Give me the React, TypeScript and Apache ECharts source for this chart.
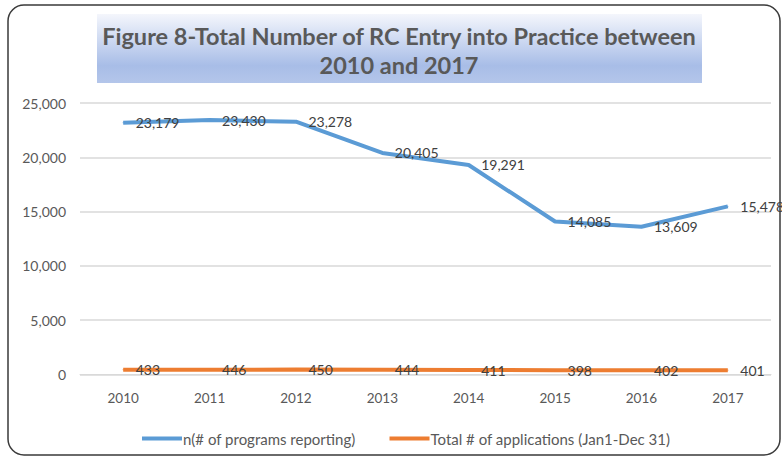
import React, { useEffect, useRef } from "react";
import * as echarts from "echarts";

const years = ["2010", "2011", "2012", "2013", "2014", "2015", "2016", "2017"];
const programsReporting = [23179, 23430, 23278, 20405, 19291, 14085, 13609, 15478];
const totalApplications = [433, 446, 450, 444, 411, 398, 402, 401];
const seriesNames = ["n(# of programs reporting)", "Total # of applications (Jan1-Dec 31)"];
const titleLines = ["Figure 8-Total Number of RC Entry into Practice between", "2010 and 2017"];

export default function App() {
  const ref = useRef<HTMLDivElement>(null);
  useEffect(() => {
    if (!ref.current) return;
    const chart = echarts.init(ref.current, null, { renderer: "svg" });
    const font = "Lato, 'Open Sans', sans-serif";
    const fmt = (v: number) => v.toLocaleString("en-US");
    const titleText = (text: string, y: number) => ({
      type: "text",
      x: 399,
      y,
      style: {
        text,
        fontFamily: font,
        fontWeight: "bold",
        fontSize: 23.5,
        fill: "#595959",
        align: "center",
        verticalAlign: "middle",
      },
      z: 2,
    });
    const lbl = {
      show: true,
      position: "right",
      distance: 12,
      formatter: (p: any) => fmt(p.value),
      color: "#404040",
      fontSize: 14,
      fontFamily: font,
    };
    chart.setOption({
      animation: false,
      backgroundColor: "#ffffff",
      textStyle: { fontFamily: font },
      graphic: [
        {
          type: "rect",
          shape: { x: 8, y: 5, width: 772, height: 450, r: 16 },
          style: { fill: "none", stroke: "#3a3a3a", lineWidth: 1.5 },
          z: 0,
        },
        {
          type: "rect",
          shape: { x: 97, y: 14, width: 605, height: 69 },
          style: {
            fill: new echarts.graphic.LinearGradient(0, 0, 0, 1, [
              { offset: 0, color: "#f4f6fc" },
              { offset: 0.75, color: "#a8bde7" },
              { offset: 1, color: "#b4c6ea" },
            ]),
          },
          z: 1,
        },
        titleText(titleLines[0], 36),
        titleText(titleLines[1], 65),
      ],
      grid: { left: 80, right: 11, top: 103, bottom: 83.5 },
      legend: {
        left: 137,
        top: 426,
        icon: "rect",
        itemWidth: 40,
        itemHeight: 4,
        itemGap: 34,
        textStyle: { fontSize: 15, color: "#595959", fontFamily: font, padding: [0, 0, 0, -4] },
        data: seriesNames,
      },
      xAxis: {
        type: "category",
        data: years,
        boundaryGap: true,
        axisLine: { lineStyle: { color: "#d9d9d9", width: 1 } },
        axisTick: { show: false },
        axisLabel: { color: "#595959", fontSize: 13.5, margin: 16, fontFamily: font },
      },
      yAxis: {
        type: "value",
        min: 0,
        max: 25000,
        interval: 5000,
        axisLine: { show: false },
        axisTick: { show: false },
        splitLine: { lineStyle: { color: "#d9d9d9", width: 1.5 } },
        axisLabel: { color: "#595959", fontSize: 14, margin: 14, formatter: (v: number) => fmt(v), fontFamily: font },
      },
      series: [
        {
          name: seriesNames[0],
          type: "line",
          data: programsReporting,
          symbol: "circle",
          symbolSize: 1,
          showSymbol: true,
          lineStyle: { color: "#5b9bd5", width: 4 },
          itemStyle: { color: "#5b9bd5" },
          label: lbl,
        },
        {
          name: seriesNames[1],
          type: "line",
          data: totalApplications,
          symbol: "circle",
          symbolSize: 1,
          showSymbol: true,
          lineStyle: { color: "#ed7d31", width: 4 },
          itemStyle: { color: "#ed7d31" },
          label: lbl,
        },
      ],
    });
    return () => chart.dispose();
  }, []);
  return <div ref={ref} style={{ position: "absolute", left: 0, top: 0, width: 782, height: 458 }} />;
}
